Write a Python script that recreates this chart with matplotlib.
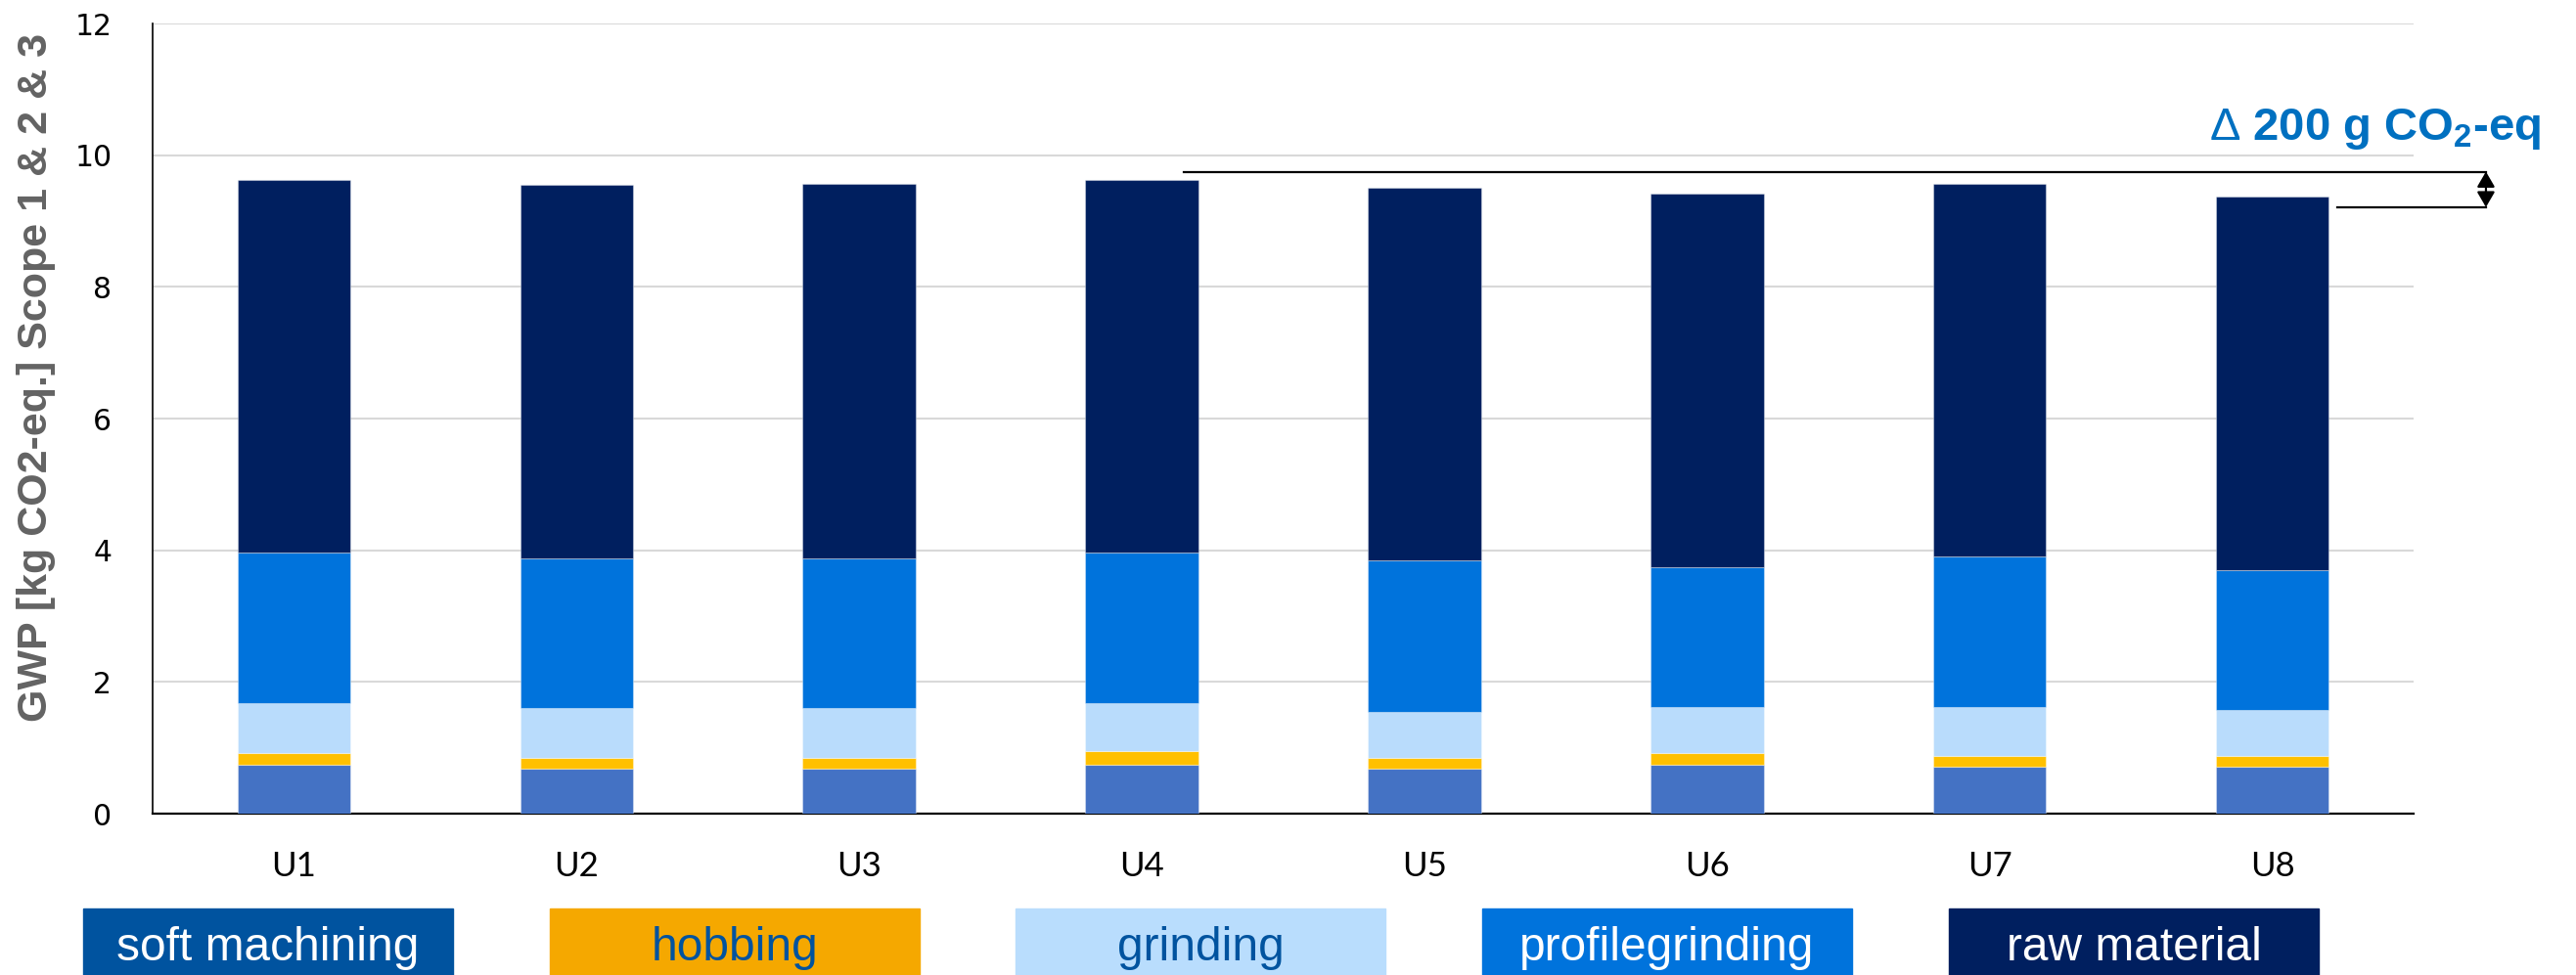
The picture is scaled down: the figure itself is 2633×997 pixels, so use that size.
import matplotlib
matplotlib.use('Agg')
import matplotlib.pyplot as plt
from matplotlib.patches import Rectangle
import numpy as np

plt.rcParams['font.family'] = ['Liberation Sans', 'DejaVu Sans']
plt.rcParams['mathtext.fontset'] = 'custom'
plt.rcParams['mathtext.rm'] = 'Liberation Sans'
plt.rcParams['mathtext.bf'] = 'Liberation Sans:bold'

# data (kg CO2-eq per unit)
units = ['U1', 'U2', 'U3', 'U4', 'U5', 'U6', 'U7', 'U8']
soft_machining = [0.74, 0.68, 0.68, 0.75, 0.68, 0.74, 0.71, 0.72]
hobbing = [0.18, 0.17, 0.17, 0.20, 0.17, 0.18, 0.165, 0.155]
grinding = [0.76, 0.75, 0.75, 0.725, 0.70, 0.705, 0.75, 0.70]
profilegrinding = [2.28, 2.28, 2.28, 2.285, 2.29, 2.115, 2.275, 2.125]
raw_material = [5.66, 5.67, 5.68, 5.67, 5.67, 5.67, 5.67, 5.67]

segments = [
    ('soft machining', soft_machining, '#4472C4', '#00539F', 'white'),
    ('hobbing', hobbing, '#FFC000', '#F5A800', '#00539F'),
    ('grinding', grinding, '#B9DCFC', '#B9DDFD', '#00539F'),
    ('profilegrinding', profilegrinding, '#0073DC', '#0073DC', 'white'),
    ('raw material', raw_material, '#001F5F', '#001F5F', 'white'),
]

W, H = 2633, 997
fig = plt.figure(figsize=(W / 100, H / 100), dpi=100)
ax = fig.add_axes([156 / W, 1 - 832 / H, (2467 - 156) / W, (832 - 24) / H])

x = np.arange(len(units))
bottom = np.zeros(len(units))
for name, vals, col, _, _ in segments:
    ax.bar(x, vals, 0.4, bottom=bottom, color=col,
           edgecolor=(1, 1, 1, 0.35), linewidth=0.8, zorder=3)
    bottom += np.array(vals)
totals = bottom

ax.set_xlim(-0.5, len(units) - 0.5)
ax.set_ylim(0, 12)
ax.set_yticks(range(0, 13, 2))
ax.set_xticks(x)
ax.set_xticklabels(units, fontsize=25, family=['Lato', 'DejaVu Sans'])
for lab in ax.get_yticklabels():
    lab.set_fontsize(21.5)
    lab.set_family(['DejaVu Sans'])
ax.tick_params(axis='y', length=0, pad=30)
ax.tick_params(axis='x', length=0, pad=27)
ax.grid(axis='y', color='#D9D9D9', linewidth=1.5, zorder=0)
for s in ['top', 'right']:
    ax.spines[s].set_visible(False)
ax.spines['left'].set_linewidth(1.2)
ax.spines['bottom'].set_linewidth(1.6)

fig.text(37 / W, 1 - 386 / H, 'GWP [kg CO2-eq.] Scope 1 & 2 & 3', rotation=90,
         ha='center', va='center', fontsize=31, fontweight='bold', color='#636363')

# delta annotation
y_hi = totals.max() + 0.12
y_lo = totals.min() - 0.16
x_arr = 7.756
ax.plot([3.147, x_arr], [y_hi, y_hi], color='black', lw=1.6, clip_on=False, zorder=4)
ax.plot([7.23, x_arr], [y_lo, y_lo], color='black', lw=1.6, clip_on=False, zorder=4)
ax.annotate('', xy=(x_arr, y_lo), xytext=(x_arr, y_hi),
            arrowprops=dict(arrowstyle='<|-|>,head_length=0.43,head_width=0.25',
                            color='black', lw=1.6, mutation_scale=22,
                            shrinkA=0, shrinkB=0),
            annotation_clip=False)
fig.text(2597 / W, 1 - 143 / H, r'$\Delta$ 200 g CO$\mathbf{_2}$-eq', ha='right', va='baseline',
         fontsize=34, fontweight='bold', color='#0070C0')

# legend boxes under the chart
box_left = [85, 562, 1038, 1515, 1992]
for (name, _, _, box_col, txt_col), bx in zip(segments, box_left):
    fig.patches.append(Rectangle((bx / W, 0), 378 / W, (H - 929) / H,
                                 transform=fig.transFigure, color=box_col))
    fig.text((bx + 189) / W, 1 - 982 / H, name, ha='center', va='baseline',
             fontsize=34.5, color=txt_col)

fig.savefig('out.png', dpi=100)
